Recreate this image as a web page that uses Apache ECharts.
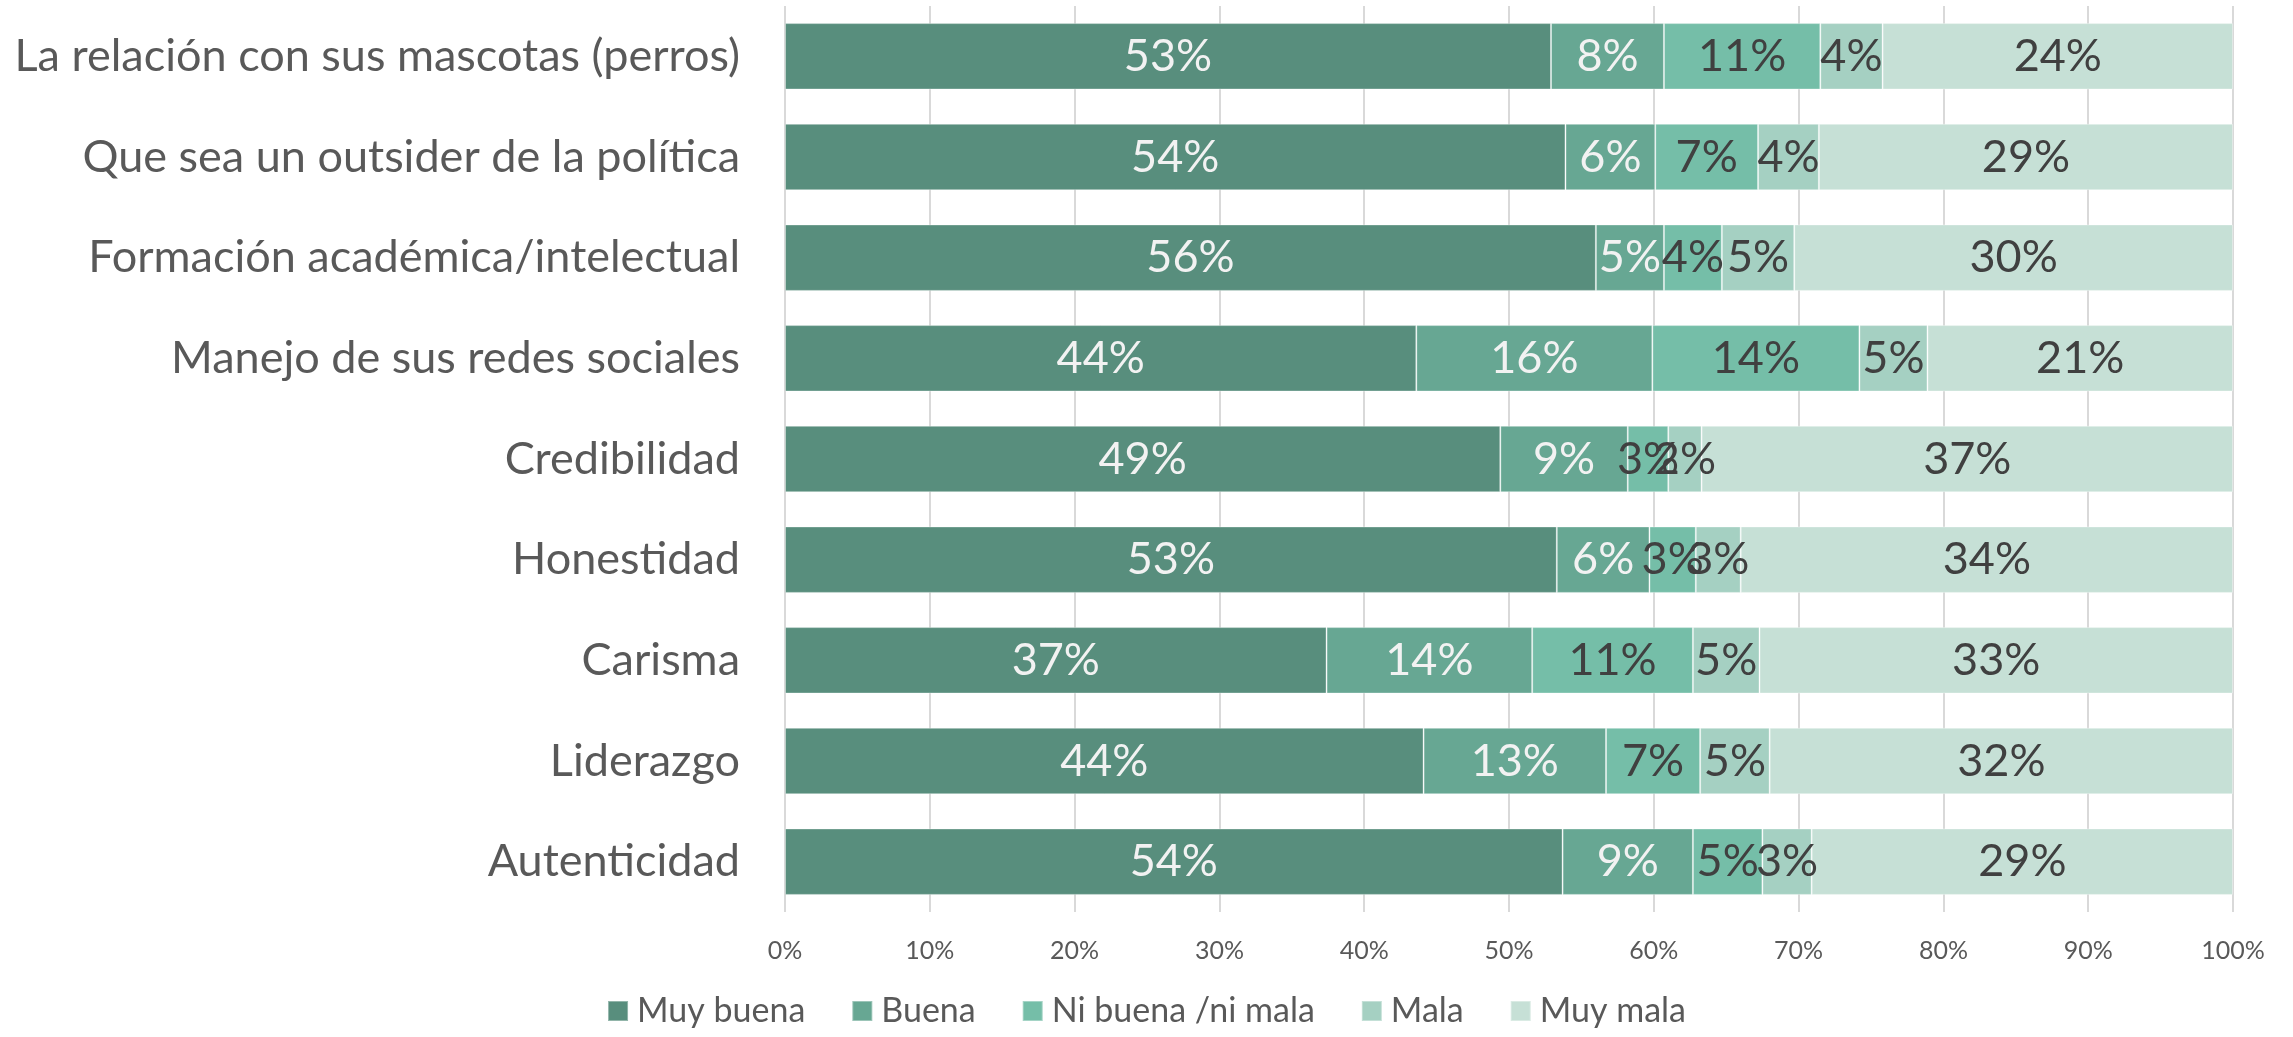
<!DOCTYPE html>
<html><head><meta charset="utf-8">
<script src="https://cdn.jsdelivr.net/npm/echarts@6/dist/echarts.min.js"></script>
<style>html,body{margin:0;padding:0;background:#fff}#c{width:2293px;height:1037px}</style>
</head><body><div id="c"></div>
<script>
const categories = [
  'La relación con sus mascotas (perros)',
  'Que sea un outsider de la política',
  'Formación académica/intelectual',
  'Manejo de sus redes sociales',
  'Credibilidad',
  'Honestidad',
  'Carisma',
  'Liderazgo',
  'Autenticidad'
];
const seriesNames = ['Muy buena', 'Buena', 'Ni buena /ni mala', 'Mala', 'Muy mala'];
const muyBuena = [52.9, 53.9, 56.0, 43.6, 49.4, 53.3, 37.4, 44.1, 53.7];
const buena    = [7.8, 6.2, 4.7, 16.3, 8.8, 6.4, 14.2, 12.6, 9.0];
const niNi     = [10.8, 7.1, 4.0, 14.3, 2.8, 3.2, 11.1, 6.5, 4.8];
const mala     = [4.3, 4.2, 5.0, 4.7, 2.3, 3.1, 4.6, 4.8, 3.4];
const muyMala  = [24.2, 28.6, 30.3, 21.1, 36.7, 34.0, 32.7, 32.0, 29.1];
const xTicks   = [0, 10, 20, 30, 40, 50, 60, 70, 80, 90, 100];

const colors = ['#588E7D', '#67A793', '#75BEA8', '#A5D0C2', '#C6E0D6'];
const labelColors = ['#F2F2F2', '#F2F2F2', '#404040', '#404040', '#404040'];
const FONT = 'Lato';
const values = [muyBuena, buena, niNi, mala, muyMala];

const chart = echarts.init(document.getElementById('c'), null, {renderer: 'canvas'});
chart.setOption({
  animation: false,
  backgroundColor: '#ffffff',
  textStyle: {fontFamily: FONT},
  grid: {left: 785, right: 60, top: 6, bottom: 125, containLabel: false},
  legend: {
    data: seriesNames,
    bottom: 4,
    left: 'center',
    itemWidth: 20, itemHeight: 20, itemGap: 46,
    icon: 'rect',
    textStyle: {fontFamily: FONT, fontSize: 34, color: '#595959', padding: [0, 0, 0, 4]}
  },
  xAxis: {
    type: 'value', min: xTicks[0], max: xTicks[xTicks.length - 1], interval: 10,
    axisLine: {show: false}, axisTick: {show: false},
    splitLine: {show: true, lineStyle: {color: '#D9D9D9', width: 2}},
    axisLabel: {formatter: '{value}%', fontFamily: FONT, fontSize: 25, color: '#595959', margin: 26}
  },
  yAxis: {
    type: 'category', data: categories, inverse: true,
    axisLine: {show: false}, axisTick: {show: false},
    axisLabel: {fontFamily: FONT, fontSize: 45, color: '#595959', margin: 45}
  },
  series: seriesNames.map((n, i) => ({
    name: n, type: 'bar', stack: 'total', data: values[i],
    barCategoryGap: '34%',
    itemStyle: {color: colors[i], borderColor: 'rgba(255,255,255,0.35)', borderWidth: 1},
    label: {
      show: true, position: 'inside',
      formatter: p => Math.round(p.value) + '%',
      fontFamily: FONT, fontSize: 45, color: labelColors[i]
    }
  }))
});
</script></body></html>
